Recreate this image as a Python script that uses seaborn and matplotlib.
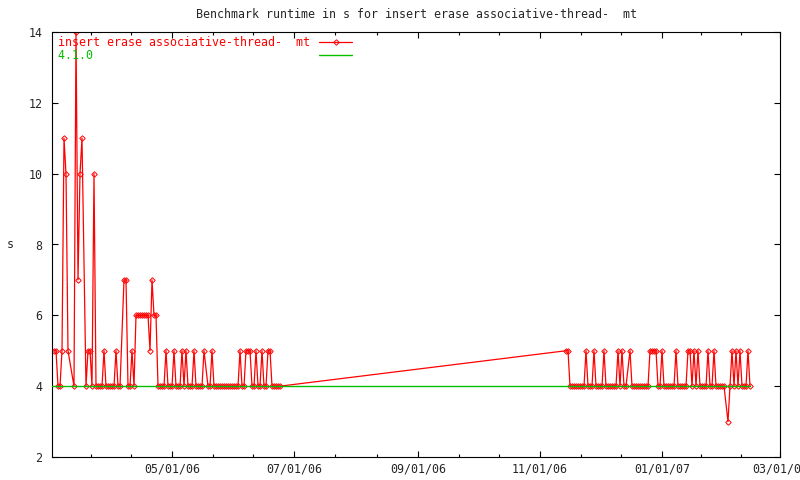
"""
Benchmark runtime chart (gnuplot style) redrawn with seaborn
"""

import numpy as np
import pandas as pd
import matplotlib
matplotlib.use('Agg')
import matplotlib.pyplot as plt
import matplotlib.dates as mdates
from matplotlib.ticker import FixedLocator
import seaborn as sns

nan = np.nan

title = 'Benchmark runtime in s for insert erase associative-thread-  mt'
series_name = 'insert erase associative-thread-  mt'
ref_name = '4.1.0'

# one run per day, nan = no run that day
early_start = '2006-03-03'
early_values = [5, 5, 4, 4, 5, 11, 10, 5, nan, nan,
                4, 14, 7, 10, 11, nan, 4, 5, 5, 4,
                10, 4, 4, 4, 4, 5, 4, 4, 4, 4,
                4, 5, 4, 4, nan, 7, 7, 4, 4, 5,
                4, 6, 6, 6, 6, 6, 6, 6, 5, 7,
                6, 6, 4, 4, 4, 4, 5, 4, 4, 4,
                5, 4, 4, 4, 5, 4, 5, 4, 4, 4,
                5, 4, 4, 4, 4, 5, nan, 4, 4, 5,
                4, 4, 4, 4, 4, 4, 4, 4, 4, 4,
                4, 4, 4, 5, 4, 4, 5, 5, 5, 4,
                4, 5, 4, 4, 5, 4, 4, 5, 5, 4,
                4, 4, 4, 4]

late_start = '2006-11-14'
late_values = [5, 5, 4, 4, 4, 4, 4, 4, 4, 4,
               5, 4, 4, 4, 5, 4, 4, 4, 4, 5,
               4, 4, 4, 4, 4, 4, 5, 4, 5, 4,
               4, nan, 5, 4, 4, 4, 4, 4, 4, 4,
               4, 4, 5, 5, 5, 5, 4, 4, 5, 4,
               4, 4, 4, 4, 4, 5, 4, 4, 4, 4,
               4, 5, 5, 4, 5, 4, 5, 4, 4, 4,
               4, 5, 4, 4, 5, 4, 4, 4, 4, 4,
               nan, 3, 4, 5, 4, 5, 4, 5, 4, 4,
               4, 5, 4]

# reference version (flat line)
ref_dates = ['2006-03-02', '2007-02-14']
ref_values = [4, 4]

x_range = ['2006-03-02', '2007-03-01']
major_months = [1, 3, 5, 7, 9, 11]
y_ticks = [2, 4, 6, 8, 10, 12, 14]

RED = '#ff0000'
GREEN = '#00c000'
FS = 8.4


def build_runs():
    early = pd.DataFrame({'date': pd.date_range(early_start, periods=len(early_values), freq='D'),
                          'runtime': early_values})
    late = pd.DataFrame({'date': pd.date_range(late_start, periods=len(late_values), freq='D'),
                         'runtime': late_values})
    return pd.concat([early, late], ignore_index=True).dropna()


def main():
    sns.set_style('ticks')
    plt.rcParams['font.family'] = ['DejaVu Sans Mono']
    plt.rcParams['font.size'] = FS

    runs = build_runs()

    fig = plt.figure(figsize=(8, 4.8), dpi=100)
    ax = fig.add_axes([52 / 800, 1 - 457 / 480, 728 / 800, 425 / 480])

    sns.lineplot(data=runs, x='date', y='runtime', color=RED, lw=0.9,
                 marker='D', markersize=2.8, markerfacecolor='none',
                 markeredgecolor=RED, markeredgewidth=0.7,
                 label=series_name, ax=ax, zorder=2)
    sns.lineplot(x=pd.to_datetime(ref_dates), y=ref_values, color=GREEN, lw=1.0,
                 label=ref_name, ax=ax, zorder=3)

    ax.set_xlim(pd.Timestamp(x_range[0]), pd.Timestamp(x_range[1]))
    ax.set_ylim(min(y_ticks), max(y_ticks))
    ax.set_yticks(y_ticks)

    ax.xaxis.set_major_locator(mdates.MonthLocator(bymonth=major_months))
    ax.xaxis.set_major_formatter(mdates.DateFormatter('%m/%d/%y'))
    # gnuplot style: two minor ticks between majors
    majors = mdates.date2num(pd.date_range('2006-03-01', '2007-03-01', freq='2MS'))
    minors = np.concatenate([np.linspace(a, b, 4)[1:3] for a, b in zip(majors[:-1], majors[1:])])
    ax.xaxis.set_minor_locator(FixedLocator(minors))

    ax.tick_params(which='both', direction='in', top=True, right=True,
                   color='black', width=0.8, labelsize=FS)
    ax.tick_params(which='major', length=4.5)
    ax.tick_params(which='minor', length=2.5)
    ax.tick_params(axis='x', pad=4)
    ax.tick_params(axis='y', pad=7)
    for s in ax.spines.values():
        s.set_color('black')
        s.set_linewidth(0.8)

    ax.set_xlabel('')
    ax.set_ylabel('')
    fig.text(10 / 800, 1 - 245 / 480, 's', ha='center', va='center', fontsize=FS)
    fig.text(416 / 800, 1 - 14 / 480, title, ha='center', va='center', fontsize=FS)

    handles, labels = ax.get_legend_handles_labels()
    width = max(len(l) for l in labels)
    labels = [l.ljust(width) for l in labels]
    ax.legend(handles, labels, loc='upper left', bbox_to_anchor=(6 / 728, 1 - 4 / 425),
              frameon=False, markerfirst=False, labelcolor='linecolor',
              handlelength=2.8, handletextpad=0.8, labelspacing=0.0,
              borderpad=0, borderaxespad=0, fontsize=FS)

    fig.savefig('out.png', dpi=100)
    plt.close(fig)


if __name__ == "__main__":
    main()
